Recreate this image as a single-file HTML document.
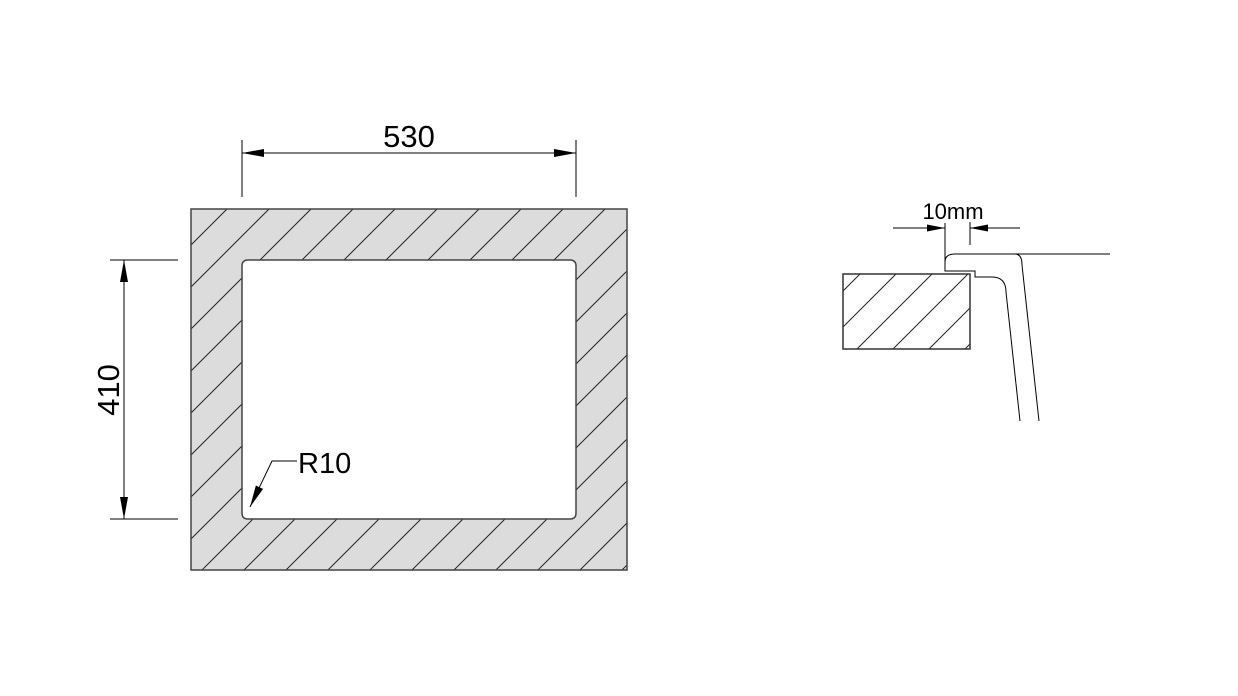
<!DOCTYPE html>
<html><head><style>body{margin:0;background:#fff}svg{display:block}text{font-family:"Liberation Sans",Arial,sans-serif;fill:#000}</style></head><body>
<svg width="1238" height="696" viewBox="0 0 1238 696" xmlns="http://www.w3.org/2000/svg">
<defs>
<pattern id="h1" patternUnits="userSpaceOnUse" width="42" height="42" x="184" y="0">
<line x1="0" y1="42" x2="42" y2="0" stroke="#222" stroke-width="1"/>
<line x1="-21" y1="21" x2="21" y2="-21" stroke="#222" stroke-width="1"/>
<line x1="21" y1="63" x2="63" y2="21" stroke="#222" stroke-width="1"/>
</pattern>
<pattern id="h2" patternUnits="userSpaceOnUse" width="36" height="36" x="846" y="0">
<line x1="0" y1="36" x2="36" y2="0" stroke="#222" stroke-width="1"/>
<line x1="-18" y1="18" x2="18" y2="-18" stroke="#222" stroke-width="1"/>
<line x1="18" y1="54" x2="54" y2="18" stroke="#222" stroke-width="1"/>
</pattern>
<marker id="a" viewBox="0 0 22 8" refX="22" refY="4" markerWidth="22" markerHeight="8" markerUnits="userSpaceOnUse" orient="auto-start-reverse"><path d="M0,0L22,4L0,8z" fill="#000"/></marker>
<marker id="b" viewBox="0 0 18 7" refX="18" refY="3.5" markerWidth="18" markerHeight="7" markerUnits="userSpaceOnUse" orient="auto-start-reverse"><path d="M0,0L18,3.5L0,7z" fill="#000"/></marker>
</defs>
<path d="M191,209H627V570H191Z M248,260H570Q576,260 576,266V513Q576,519 570,519H248Q242,519 242,513V266Q242,260 248,260Z" fill="#dcdcdc" fill-rule="evenodd"/>
<path d="M191,209H627V570H191Z M248,260H570Q576,260 576,266V513Q576,519 570,519H248Q242,519 242,513V266Q242,260 248,260Z" fill="url(#h1)" fill-rule="evenodd" stroke="#444" stroke-width="1.5"/>
<line x1="242" y1="140" x2="242" y2="197" stroke="#000" stroke-width="1"/>
<line x1="576" y1="140" x2="576" y2="197" stroke="#000" stroke-width="1"/>
<line x1="242" y1="153" x2="576" y2="153" stroke="#000" stroke-width="1" marker-start="url(#a)" marker-end="url(#a)"/>
<text x="409" y="147" font-size="31" text-anchor="middle">530</text>
<line x1="110" y1="260" x2="178" y2="260" stroke="#000" stroke-width="1"/>
<line x1="110" y1="519" x2="178" y2="519" stroke="#000" stroke-width="1"/>
<line x1="124" y1="260" x2="124" y2="519" stroke="#000" stroke-width="1" marker-start="url(#a)" marker-end="url(#a)"/>
<text x="0" y="0" font-size="31" text-anchor="middle" transform="translate(119,390) rotate(-90)">410</text>
<polyline points="297,461 272,461 250,507" fill="none" stroke="#000" stroke-width="1" marker-end="url(#a)"/>
<text x="298" y="473" font-size="29">R10</text>
<rect x="843" y="274" width="127" height="75" fill="url(#h2)" stroke="#333" stroke-width="1.5"/>
<path d="M945,223V271H975V277H992Q1006,277 1006,292L1020,421" fill="none" stroke="#000" stroke-width="1"/>
<path d="M945,271V262Q945,254 955,254H1015Q1022,254 1022,265L1039,421" fill="none" stroke="#000" stroke-width="1"/>
<line x1="1015" y1="254" x2="1110" y2="254" stroke="#000" stroke-width="1"/>
<line x1="970" y1="222" x2="970" y2="245" stroke="#000" stroke-width="1"/>
<line x1="893" y1="228" x2="945" y2="228" stroke="#000" stroke-width="1" marker-end="url(#b)"/>
<line x1="1020" y1="228" x2="970" y2="228" stroke="#000" stroke-width="1" marker-end="url(#b)"/>
<text x="953" y="219" font-size="22" text-anchor="middle">10mm</text>
</svg>
</body></html>
